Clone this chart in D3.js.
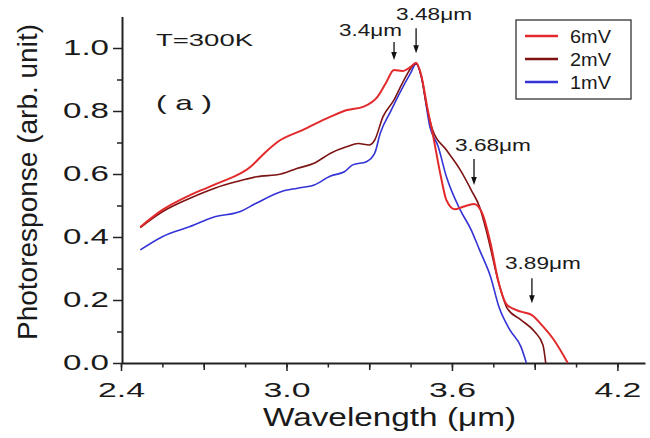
<!DOCTYPE html>
<html>
<head>
<meta charset="utf-8">
<script src="https://cdn.jsdelivr.net/npm/d3@7"></script>
<style>
    body { margin: 0; background: #fff; }
    text { font-family: "Liberation Sans", Arial, sans-serif; fill: #1a1a1a; }
</style>
</head>
<body>
<svg id="chart" width="650" height="438"></svg>
<script>
// wavelength (um) and photoresponse, one pair of arrays per bias
var lambda6mV = [2.47, 2.55, 2.65, 2.75, 2.87, 2.92, 2.97, 3.06, 3.16, 3.22, 3.28, 3.33, 3.36, 3.39, 3.42,
    3.45, 3.47, 3.49, 3.51, 3.53, 3.56, 3.58, 3.61, 3.64, 3.68, 3.71, 3.74, 3.77, 3.80, 3.85, 3.89, 3.92, 3.97, 4.02];
var resp6mV = [0.432, 0.486, 0.533, 0.570, 0.623, 0.666, 0.703, 0.740, 0.782, 0.803, 0.814, 0.845, 0.888, 0.930, 0.927,
    0.940, 0.953, 0.909, 0.814, 0.729, 0.591, 0.517, 0.488, 0.496, 0.505, 0.475, 0.380, 0.253, 0.184, 0.163, 0.152, 0.126, 0.073, 0.0];

var lambda2mV = [2.47, 2.55, 2.65, 2.74, 2.82, 2.89, 2.98, 3.04, 3.10, 3.16, 3.22, 3.26, 3.30, 3.32, 3.35, 3.39, 3.42,
    3.47, 3.49, 3.505, 3.53, 3.58, 3.63, 3.67, 3.70, 3.73, 3.77, 3.80, 3.85, 3.90, 3.93, 3.94];
var resp2mV = [0.430, 0.480, 0.523, 0.555, 0.576, 0.591, 0.600, 0.618, 0.634, 0.666, 0.687, 0.697, 0.692, 0.708, 0.782, 0.835, 0.888,
    0.950, 0.905, 0.830, 0.740, 0.676, 0.613, 0.549, 0.496, 0.401, 0.253, 0.174, 0.137, 0.099, 0.057, 0.0];

var lambda1mV = [2.47, 2.55, 2.65, 2.74, 2.83, 2.89, 2.98, 3.04, 3.10, 3.16, 3.21, 3.24, 3.29, 3.32, 3.34, 3.38, 3.41,
    3.45, 3.47, 3.49, 3.52, 3.55, 3.58, 3.63, 3.67, 3.70, 3.74, 3.77, 3.81, 3.85, 3.87];
var resp1mV = [0.359, 0.401, 0.433, 0.464, 0.480, 0.507, 0.544, 0.555, 0.565, 0.594, 0.607, 0.629, 0.639, 0.666, 0.729, 0.803, 0.856,
    0.920, 0.950, 0.905, 0.750, 0.687, 0.591, 0.486, 0.422, 0.359, 0.274, 0.179, 0.105, 0.052, 0.0];

var seriesNames = ["6mV", "2mV", "1mV"];
var seriesColors = ["#e3292b", "#7d1313", "#3333d6"];

var xTickLabels = [2.4, 3.0, 3.6, 4.2];
var yTickLabels = [0.0, 0.2, 0.4, 0.6, 0.8, 1.0];

// peak markers: label, wavelength of arrow, response at arrow tip
var peakLabels = ["3.4\u03bcm", "3.48\u03bcm", "3.68\u03bcm", "3.89\u03bcm"];
var peakLambda = [3.39, 3.47, 3.68, 3.89];
var peakTip = [0.962, 0.983, 0.565, 0.19];

function zip(xs, ys) {
    return xs.map(function(x, i) { return {x: x, y: ys[i]}; });
}

var series = [
    {name: seriesNames[0], color: seriesColors[0], width: 2, values: zip(lambda6mV, resp6mV)},
    {name: seriesNames[1], color: seriesColors[1], width: 1.6, values: zip(lambda2mV, resp2mV)},
    {name: seriesNames[2], color: seriesColors[2], width: 1.6, values: zip(lambda1mV, resp1mV)}
];

var svg = d3.select("#chart");

var x = d3.scaleLinear().domain([2.4, 4.3]).range([121, 645]);
var y = d3.scaleLinear().domain([0, 1.1]).range([363, 16.5]);

// minor ticks
svg.append("g")
    .attr("transform", "translate(0,363)")
    .call(d3.axisBottom(x).tickValues(d3.range(2.4, 4.26, 0.15)).tickSize(4.5).tickFormat(""))
    .call(function(g) { g.select(".domain").remove(); });
svg.append("g")
    .attr("transform", "translate(0,363)")
    .call(d3.axisBottom(x).tickValues([2.7, 3.3, 3.9]).tickSize(7).tickFormat(""))
    .call(function(g) { g.select(".domain").remove(); });
svg.append("g")
    .attr("transform", "translate(122,0)")
    .call(d3.axisLeft(y).tickValues(d3.range(0.1, 1.1, 0.2)).tickSize(5).tickFormat(""))
    .call(function(g) { g.select(".domain").remove(); });

var xAxis = svg.append("g")
    .attr("transform", "translate(0,363)")
    .call(d3.axisBottom(x).tickValues(xTickLabels).tickSize(8).tickSizeOuter(0).tickPadding(12)
        .tickFormat(d3.format(".1f")));
xAxis.selectAll("text")
    .attr("font-size", 21)
    .attr("dy", "0.68em")
    .attr("textLength", 47)
    .attr("lengthAdjust", "spacingAndGlyphs");

var yAxis = svg.append("g")
    .attr("transform", "translate(122,0)")
    .call(d3.axisLeft(y).tickValues(yTickLabels).tickSize(9).tickSizeOuter(0).tickPadding(4)
        .tickFormat(d3.format(".1f")));
yAxis.selectAll("text")
    .attr("font-size", 21.5)
    .attr("textLength", 46)
    .attr("lengthAdjust", "spacingAndGlyphs");

svg.selectAll(".tick line").attr("stroke", "#222").attr("stroke-width", 1.5);
svg.selectAll(".domain").attr("stroke", "#222").attr("stroke-width", 2);
svg.selectAll(".tick text").attr("fill", "#1a1a1a").attr("font-family", "Liberation Sans, Arial, sans-serif");

// curves
var line = d3.line()
    .x(function(d) { return x(d.x); })
    .y(function(d) { return y(d.y); })
    .curve(d3.curveMonotoneX);

svg.append("g").selectAll("path")
    .data(series.slice().reverse())
    .enter().append("path")
    .attr("fill", "none")
    .attr("stroke", function(d) { return d.color; })
    .attr("stroke-width", function(d) { return d.width; })
    .attr("stroke-linejoin", "round")
    .attr("d", function(d) { return line(d.values); });

// arrows + labels
var labelDx = [-55, -20, -19, -27];
var labelDy = [-6, -8, -8, -9];
var arrowLen = [18, 25, 26, 25];
var marks = svg.append("g").selectAll("g")
    .data(peakLabels)
    .enter().append("g");
marks.append("line")
    .attr("x1", function(d, i) { return x(peakLambda[i]); })
    .attr("x2", function(d, i) { return x(peakLambda[i]); })
    .attr("y1", function(d, i) { return y(peakTip[i]) - arrowLen[i]; })
    .attr("y2", function(d, i) { return y(peakTip[i]) - 6; })
    .attr("stroke", "#111").attr("stroke-width", 1.3);
marks.append("path")
    .attr("d", function(d, i) {
        var px = x(peakLambda[i]), py = y(peakTip[i]);
        return "M" + (px - 2.8) + "," + (py - 8) + "L" + (px + 2.8) + "," + (py - 8) + "L" + px + "," + py + "Z";
    })
    .attr("fill", "#111");
marks.append("text")
    .attr("x", function(d, i) { return x(peakLambda[i]) + labelDx[i]; })
    .attr("y", function(d, i) { return y(peakTip[i]) - arrowLen[i] + labelDy[i]; })
    .attr("font-size", 16.5)
    .attr("textLength", function(d) { return d.length > 5 ? 76 : 63; })
    .attr("lengthAdjust", "spacingAndGlyphs")
    .text(function(d) { return d; });

// labels in the plot
svg.append("text").attr("x", 156).attr("y", 46).attr("font-size", 17)
    .attr("textLength", 97).attr("lengthAdjust", "spacingAndGlyphs").text("T=300K");
svg.append("text").attr("x", 156).attr("y", 110).attr("font-size", 21)
    .attr("textLength", 56).attr("lengthAdjust", "spacingAndGlyphs").text("( a )");

// axis titles
svg.append("text").attr("x", 263).attr("y", 426).attr("font-size", 26)
    .attr("textLength", 253).attr("lengthAdjust", "spacingAndGlyphs")
    .text("Wavelength (\u03bcm)");
svg.append("text")
    .attr("transform", "translate(37,182) rotate(-90)")
    .attr("text-anchor", "middle")
    .attr("font-size", 28)
    .attr("textLength", 316).attr("lengthAdjust", "spacingAndGlyphs")
    .text("Photoresponse (arb. unit)");

// legend
var legend = svg.append("g");
legend.append("rect")
    .attr("x", 516).attr("y", 20).attr("width", 115).attr("height", 79)
    .attr("fill", "#fff").attr("stroke", "#333").attr("stroke-width", 1.3);
var rows = legend.selectAll("g.row")
    .data(series)
    .enter().append("g")
    .attr("class", "row")
    .attr("transform", function(d, i) { return "translate(0," + (36 + i * 23) + ")"; });
rows.append("line")
    .attr("x1", 525).attr("x2", 558)
    .attr("stroke", function(d) { return d.color; })
    .attr("stroke-width", 2.6);
rows.append("text")
    .attr("x", 570).attr("dy", "0.36em")
    .attr("font-size", 18.5)
    .attr("textLength", 41).attr("lengthAdjust", "spacingAndGlyphs")
    .text(function(d) { return d.name; });
</script>
</body>
</html>
